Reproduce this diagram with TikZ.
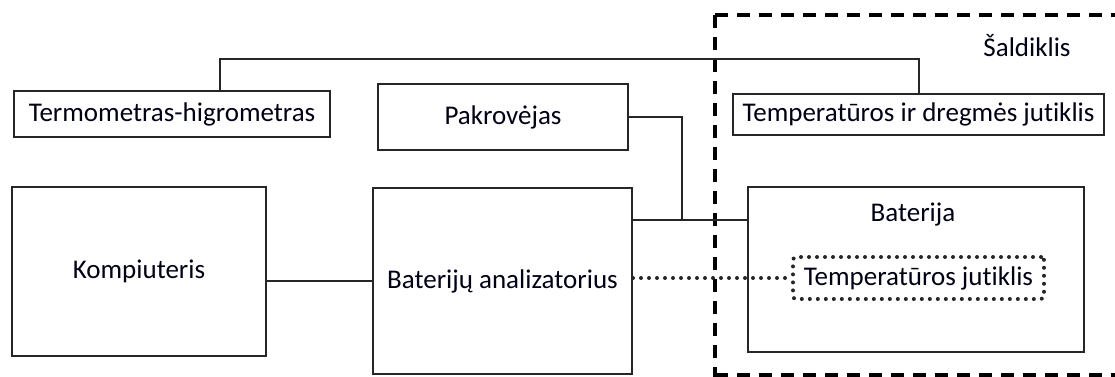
\documentclass[tikz,border=0pt]{standalone}
\usepackage{fontspec}
\setmainfont{Carlito}[Ligatures={NoCommon,NoRare,NoContextual}]
\begin{document}
\begin{tikzpicture}[x=1pt,y=-1pt,
  box/.style={draw=black!85, line width=2pt, inner sep=0pt, minimum width=#1},
  lbl/.style={font=\fontsize{27}{32}\selectfont, text=black!92!blue},
  wire/.style={draw=black!85, line width=2pt},
  dotwire/.style={draw=black!85, line width=4pt, line cap=round, dash pattern=on 0pt off 8pt},
  freezer/.style={draw=black, line width=4pt, dash pattern=on 13pt off 9pt}]
\useasboundingbox (0,0) rectangle (1115,376);
\clip (0,0) rectangle (1115,376);
% freezer region
\draw[freezer] (715,15) -- (1140,15) (715,15) -- (715,380) (715,375) -- (1140,375);
\node[lbl] (sald) at (1027,46) {Šaldiklis};
% boxes
\node[box=316pt, minimum height=46pt, lbl] (term) at (172,114) {Termometras-higrometras};
\node[box=250pt, minimum height=66pt, lbl] (pak) at (503,117) {Pakrovėjas};
\node[box=371pt, minimum height=41pt, lbl] (tid) at (918.5,114.5) {Temperatūros ir dregmės jutiklis};
\node[box=254pt, minimum height=169pt, lbl] (komp) at (139,271.5) {Kompiuteris};
\node[box=259pt, minimum height=186pt, lbl] (anal) at (502.5,281) {Baterijų analizatorius};
\node[box=336pt, minimum height=165pt] (bat) at (916,269.5) {};
\node[lbl] (batl) at (913,215) {Baterija};
\node[draw=black!85, line width=4pt, line cap=round, dash pattern=on 0pt off 8pt,
      rounded corners=3pt, inner sep=0pt, minimum width=251pt, minimum height=42pt, lbl]
      (tj) at (918.5,278) {Temperatūros jutiklis};
% connectors
\coordinate (t1) at (220,59);
\coordinate (j) at (682,220);
\draw[wire] (term.north -| t1) -- (t1) -| (tid.north);
\draw[wire] (pak.east) -| (j);
\draw[wire] (anal.east |- j) -- (bat.west |- j);
\draw[wire] (komp.east |- anal.west) -- (anal.west);
\draw[dotwire] (anal.east |- tj.west) -- (tj.west);
\end{tikzpicture}
\end{document}
